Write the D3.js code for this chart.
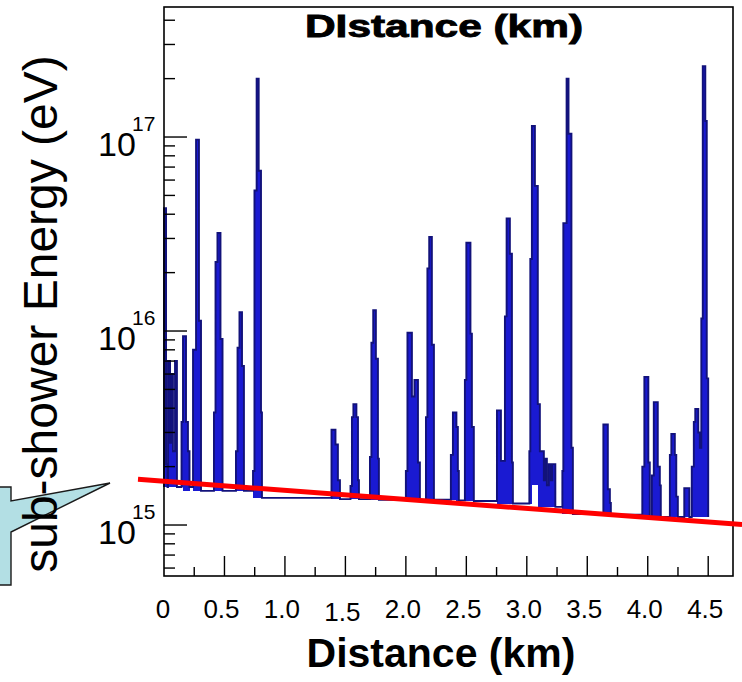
<!DOCTYPE html>
<html>
<head>
<meta charset="utf-8">
<script src="https://cdn.jsdelivr.net/npm/d3@7"></script>
<style>
  html, body { margin: 0; padding: 0; background: #fff; }
  svg { display: block; }
  text { font-family: "Liberation Sans", Arial, Helvetica, sans-serif; fill: #000; }
</style>
</head>
<body>
<svg id="chart" width="742" height="682"></svg>
<script>
// Sub-shower energy deposited along the track, histogram steps (start of each step, km)
const stepKm = [
  0.000, 0.017, 0.029, 0.033, 0.050, 0.058, 0.074, 0.091, 0.107,
  0.145, 0.157, 0.182, 0.198, 0.211,
  0.240, 0.265, 0.289, 0.306,
  0.413, 0.426, 0.442, 0.467, 0.484,
  0.595, 0.608, 0.624, 0.645, 0.661,
  0.736, 0.748, 0.766, 0.783, 0.802, 0.810,
  1.385, 1.418, 1.438, 1.455,
  1.542, 1.554, 1.566, 1.591, 1.604, 1.612,
  1.703, 1.715, 1.730, 1.752, 1.769, 1.777,
  2.000, 2.013, 2.050, 2.071, 2.100, 2.116,
  2.166, 2.178, 2.193, 2.215, 2.232,
  2.372, 2.389, 2.418, 2.430, 2.438,
  2.488, 2.500, 2.534, 2.546, 2.562,
  2.753, 2.786, 2.819, 2.833, 2.860, 2.877, 2.885,
  3.021, 3.029, 3.042, 3.067, 3.091, 3.108, 3.141, 3.153, 3.166, 3.182, 3.199, 3.211, 3.236,
  3.294, 3.302, 3.329, 3.345, 3.369, 3.381,
  3.633, 3.670, 3.687, 3.695,
  3.955, 3.972, 4.005, 4.017, 4.034, 4.050, 4.083, 4.100, 4.108,
  4.183, 4.195, 4.224, 4.236, 4.249,
  4.302, 4.344, 4.364, 4.381, 4.393, 4.418, 4.431, 4.443, 4.455, 4.476, 4.488
];

// Energy of each step (eV)
const stepEnergy = [
  4.3e16, 2.06e15, 1.57e15, 7.0e15, 2.65e15, 6.0e15, 2.4e15, 7.0e15, 1.57e15,
  3.4e15, 9.4e15, 3.4e15, 2.4e15, 1.57e15,
  8.0e15, 9.7e16, 1.13e16, 1.50e15,
  3.8e15, 2.27e16, 3.2e16, 9.1e15, 1.50e15,
  2.4e15, 8.2e15, 1.25e16, 6.6e15, 1.50e15,
  1.9e15, 5.3e16, 2.0e17, 6.7e16, 3.8e15, 1.38e15,
  3.1e15, 2.6e15, 1.7e15, 1.36e15,
  1.59e15, 3.6e15, 4.2e15, 3.6e15, 1.7e15, 1.36e15,
  2.24e15, 8.7e15, 1.28e16, 7.2e15, 2.2e15, 1.35e15,
  1.9e15, 9.8e15, 4.6e15, 5.6e15, 2.1e15, 1.35e15,
  3.6e15, 2.1e16, 3.05e16, 8.5e15, 1.35e15,
  2.3e15, 3.8e15, 3.2e15, 1.9e15, 1.34e15,
  5.6e15, 2.85e16, 9.7e15, 3.2e15, 1.33e15,
  3.9e15, 2.14e15, 1.19e16, 3.8e16, 2.5e16, 2.1e15, 1.29e15,
  2.4e15, 2.35e16, 1.14e17, 5.6e16, 4.2e15, 2.4e15, 1.7e15, 2.2e15, 1.6e15, 2.06e15, 1.7e15, 2.06e15, 1.24e15,
  1.9e15, 3.6e16, 2.0e17, 1.04e17, 2.5e15, 1.14e15,
  3.3e15, 1.53e15, 1.3e15, 1.13e15,
  2.0e15, 5.8e15, 2.1e15, 1.10e15, 1.8e15, 4.3e15, 2.0e15, 1.6e15, 1.10e15,
  2.3e15, 2.95e15, 2.3e15, 1.4e15, 1.10e15,
  1.55e15, 1.10e15, 2.0e15, 3.4e15, 3.96e15, 3.0e15, 2.5e15, 1.16e16, 2.32e17, 1.21e17, 5.7e15
];
const histEndKm = 4.5;

// Axis ticks and labels
const xTickValues = [0, 0.5, 1.0, 1.5, 2.0, 2.5, 3.0, 3.5, 4.0, 4.5];
const xTickLabels = ["0", "0.5", "1.0", "1.5", "2.0", "2.5", "3.0", "3.5", "4.0", "4.5"];
const yDecades = [1e15, 1e16, 1e17];
const yDecadeExponents = ["15", "16", "17"];

// Threshold line: [distance km, energy eV] at both ends
const threshold = [[-0.215, 1.72e15], [4.78, 1.006e15]];

const svg = d3.select("#chart");
const frame = { left: 164, top: 7, right: 733, bottom: 576 };

const x = d3.scaleLinear().domain([0, 4.705]).range([frame.left, frame.right]);
const y = d3.scaleLog().domain([5.46e14, 4.68e17]).range([frame.bottom, frame.top]);

svg.append("rect").attr("width", 742).attr("height", 682).attr("fill", "#fff");

// Speech-bubble callout at the left edge
svg.append("path")
  .attr("d", "M-4,487 L11,487 L11,501 L110,483 L11,532 L11,585 L-4,585 Z")
  .attr("fill", "#b3dfe4")
  .attr("stroke", "#1a1a1a")
  .attr("stroke-width", 1.4)
  .attr("stroke-linejoin", "miter");

// Histogram bins
const bins = stepKm.map((k, i) => ({
  k0: k,
  k1: i + 1 < stepKm.length ? stepKm[i + 1] : histEndKm,
  v: stepEnergy[i]
}));
bins.forEach(b => {
  b.lo = d3.min(bins.filter(o => Math.abs(o.k0 - b.k0) <= 0.15), o => o.v);
});

const hist = svg.append("g");
hist.selectAll("rect.fill")
  .data(bins.filter(b => b.v / b.lo > 1.12))
  .join("rect")
  .attr("class", "fill")
  .attr("x", b => x(b.k0))
  .attr("width", b => x(b.k1) - x(b.k0))
  .attr("y", b => y(b.v))
  .attr("height", b => y(b.lo) - y(b.v))
  .attr("fill", "#1a1ad2")
  .attr("shape-rendering", "crispEdges");

let d = `M${x(bins[0].k0)},${y(bins[0].lo)}V${y(bins[0].v)}`;
bins.forEach((b, i) => {
  d += `H${x(b.k1)}`;
  if (i + 1 < bins.length) d += `V${y(bins[i + 1].v)}`;
});
d += `V${y(bins[bins.length - 1].lo)}`;
hist.append("path")
  .attr("d", d)
  .attr("fill", "none")
  .attr("stroke", "#12127a")
  .attr("stroke-width", 1.9)
  .attr("stroke-linejoin", "miter");

// Y ticks (log, inside the frame)
const yTicks = svg.append("g").attr("stroke", "#000").attr("stroke-width", 1.4);
const yMinor = [];
[1e14, 1e15, 1e16, 1e17].forEach(dec => {
  for (let m = 2; m <= 9; m++) {
    const v = m * dec;
    if (v > y.domain()[0] && v < y.domain()[1]) yMinor.push(v);
  }
});
yTicks.selectAll("line.minor").data(yMinor).join("line")
  .attr("x1", frame.left).attr("x2", frame.left + 11)
  .attr("y1", v => y(v)).attr("y2", v => y(v));
yTicks.selectAll("line.major").data(yDecades).join("line")
  .attr("x1", frame.left).attr("x2", frame.left + 23)
  .attr("y1", v => y(v)).attr("y2", v => y(v));

// Y tick labels: 10 with superscript exponent
const yLab = svg.append("g");
yDecades.forEach((v, i) => {
  yLab.append("text")
    .attr("x", 98).attr("y", y(v) + 19)
    .attr("font-size", 34)
    .text("10");
  yLab.append("text")
    .attr("x", 132).attr("y", y(v) - 6)
    .attr("font-size", 21)
    .text(yDecadeExponents[i]);
});

// X ticks every 0.25 km, longer at 0.5 km
const xTickAll = d3.range(1, 19).map(i => i * 0.25).filter(v => x(v) < frame.right - 2);
svg.append("g").attr("stroke", "#000").attr("stroke-width", 1.4)
  .selectAll("line").data(xTickAll).join("line")
  .attr("x1", v => x(v)).attr("x2", v => x(v))
  .attr("y1", frame.bottom)
  .attr("y2", v => frame.bottom - (Math.abs(v / 0.5 - Math.round(v / 0.5)) < 1e-6 ? 20 : 9));

svg.append("g").selectAll("text").data(xTickValues).join("text")
  .attr("x", v => x(v) - (v === 0 ? 1 : 3))
  .attr("y", 618)
  .attr("dy", v => (v === 1.5 ? 3 : 0))
  .attr("text-anchor", "middle")
  .attr("font-size", 26)
  .text((v, i) => xTickLabels[i]);

// Frame
svg.append("rect")
  .attr("x", frame.left).attr("y", frame.top)
  .attr("width", frame.right - frame.left).attr("height", frame.bottom - frame.top)
  .attr("fill", "none").attr("stroke", "#000").attr("stroke-width", 1.6);

// Threshold line
svg.append("line")
  .attr("x1", x(threshold[0][0])).attr("y1", y(threshold[0][1]))
  .attr("x2", x(threshold[1][0])).attr("y2", y(threshold[1][1]))
  .attr("stroke", "#ff0000").attr("stroke-width", 5);

// Titles
svg.append("text")
  .attr("x", 305).attr("y", 37)
  .attr("font-size", 32).attr("font-weight", "bold")
  .attr("textLength", 278).attr("lengthAdjust", "spacingAndGlyphs")
  .attr("stroke", "#000").attr("stroke-width", 0.9)
  .text("DIstance (km)");

svg.append("text")
  .attr("x", 441).attr("y", 667)
  .attr("text-anchor", "middle")
  .attr("font-size", 41).attr("font-weight", "bold")
  .text("Distance (km)");

svg.append("text")
  .attr("transform", "translate(57,314) rotate(-90)")
  .attr("text-anchor", "middle")
  .attr("font-size", 48)
  .text("sub-shower Energy (eV)");
</script>
</body>
</html>
